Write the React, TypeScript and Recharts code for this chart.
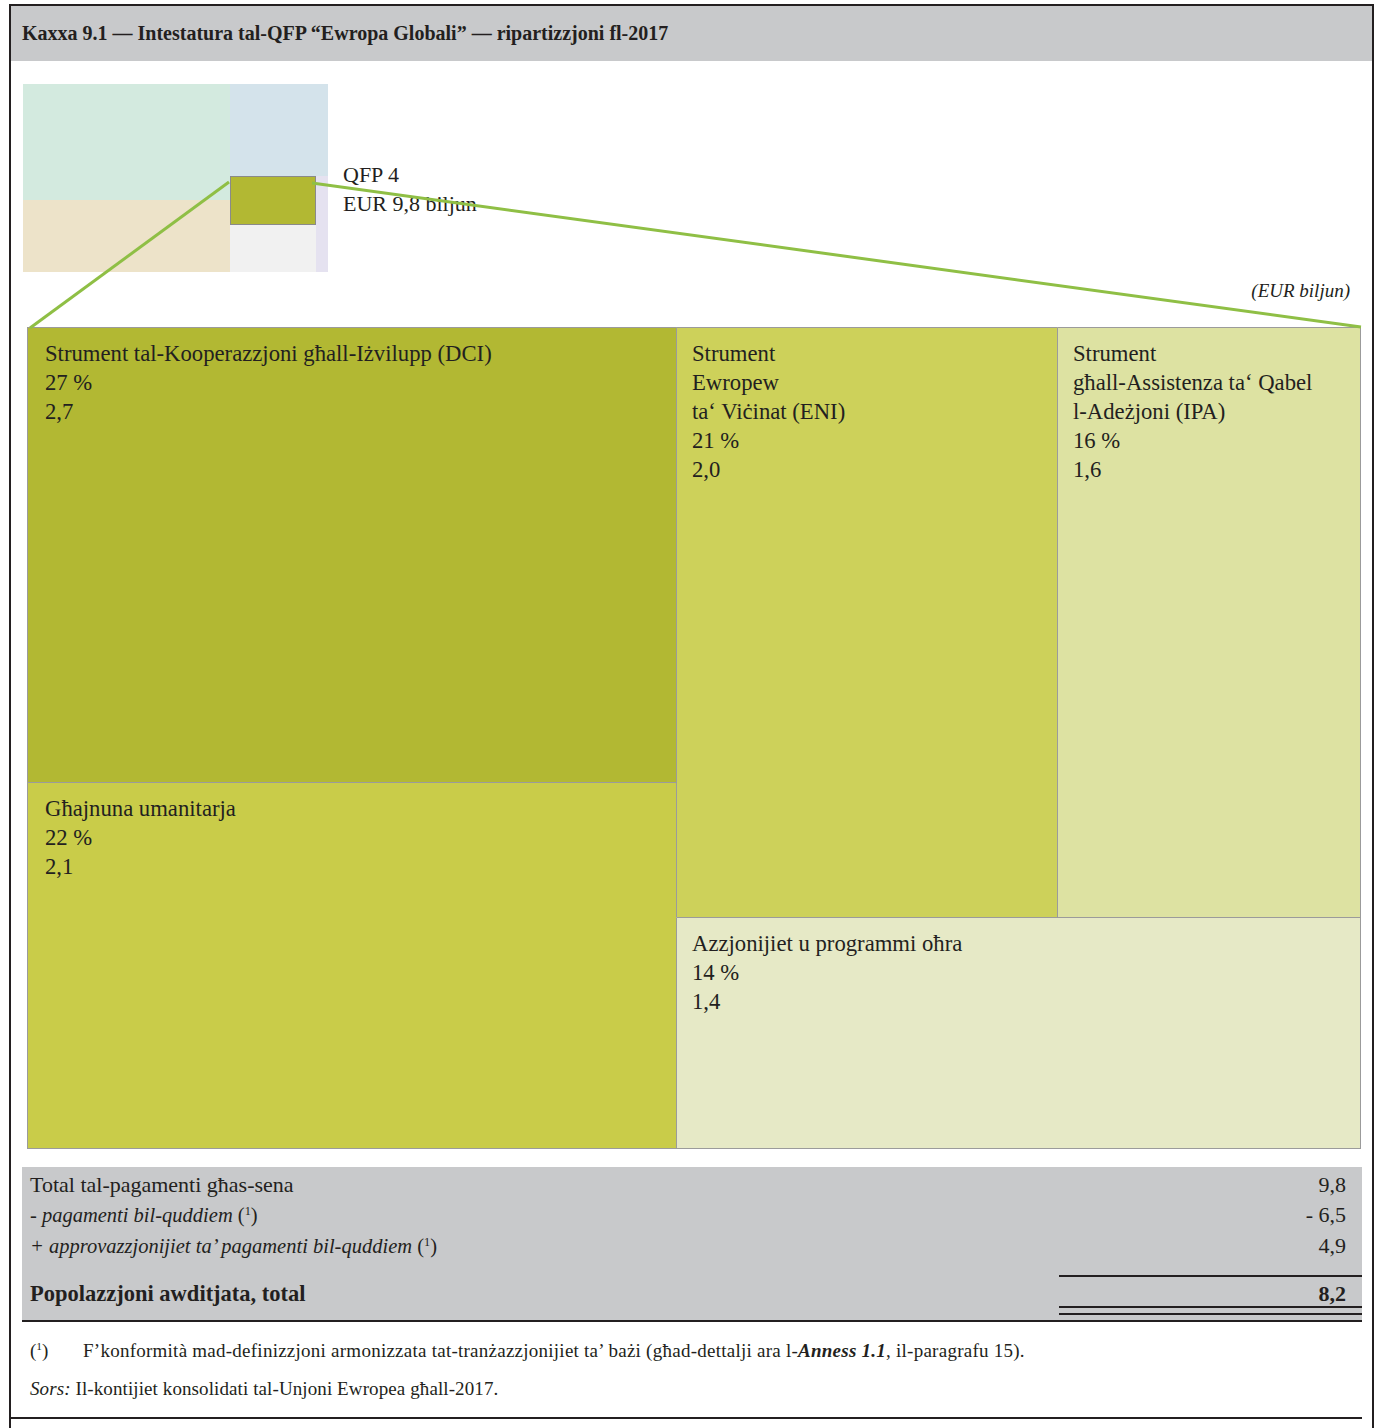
import React from 'react';
import { Treemap } from 'recharts';

// Instruments of heading 4 "Global Europe" (EUR billion, area values estimated from the cells)
const instrumentNames = [
  'Strument tal-Kooperazzjoni għall-Iżvilupp (DCI)',
  'Għajnuna umanitarja',
  'Strument\nEwropew\nta‘ Viċinat (ENI)',
  'Strument\ngħall-Assistenza ta‘ Qabel\nl-Adeżjoni (IPA)',
  'Azzjonijiet u programmi oħra',
];
const instrumentAmounts = [2.64, 2.13, 2.01, 1.6, 1.42];
const shareLabels = ['27 %', '22 %', '21 %', '16 %', '14 %'];
const amountLabels = ['2,7', '2,1', '2,0', '1,6', '1,4'];
const instrumentColors = ['#b2b833', '#c9cc49', '#cdd15a', '#dde2a2', '#e6e9c6'];

// Small overview of all MFF headings (thumbnail), heading 4 highlighted
const headingNames = ['QFP 2', 'QFP 1b', 'QFP 1a', 'QFP 4', 'QFP 5', 'QFP 3'];
const headingAmounts = [56.0, 34.8, 21.1, 9.8, 9.6, 2.7];
const headingColors = ['#d3eadf', '#ede3c9', '#d4e3eb', '#b2b833', '#f1f1f1', '#e5e2f0'];
const highlightedHeading = 'QFP 4';

// Table under the chart
const tableLabels = ['Total tal-pagamenti għas-sena', '- pagamenti bil-quddiem', '+ approvazzjonijiet ta’ pagamenti bil-quddiem'];
const tableValues = ['9,8', '- 6,5', '4,9'];
const totalLabel = 'Popolazzjoni awditjata, total';
const totalValue = '8,2';

const FONT = '"Liberation Serif", "DejaVu Serif", serif';
const INK = '#231f20';
const GREY_BAND = '#c8c9cb';
const CELL_BORDER = '#9b9b9b';
const CONNECTOR = '#8fbf45';

const MAIN = { x: 27, y: 327, w: 1334, h: 822 };
const THUMB = { x: 23, y: 84, w: 305, h: 188 };

const mainData = instrumentNames.map((name, i) => ({
  name,
  size: instrumentAmounts[i],
  share: shareLabels[i],
  amount: amountLabels[i],
  color: instrumentColors[i],
}));

const thumbData = headingNames.map((name, i) => ({
  name,
  size: headingAmounts[i],
  color: headingColors[i],
}));

const MainCell = (props: any) => {
  const { depth, x, y, width, height, name, share, amount, color } = props;
  if (depth !== 1) return <g />;
  const lines = [...String(name).split('\n'), share, amount];
  const atRight = x + width >= MAIN.w - 0.5;
  const atBottom = y + height >= MAIN.h - 0.5;
  const tx = x + (x < 1 ? 18 : 16);
  return (
    <g>
      <rect x={x} y={y} width={width} height={height} fill={color} stroke="none" />
      <path d={`M${x + 0.5},${y + height} V${y + 0.5} H${x + width}`} stroke={CELL_BORDER} strokeWidth={1} fill="none" />
      {atRight && <line x1={MAIN.w - 0.5} y1={y} x2={MAIN.w - 0.5} y2={y + height} stroke={CELL_BORDER} strokeWidth={1} />}
      {atBottom && <line x1={x} y1={MAIN.h - 0.5} x2={x + width} y2={MAIN.h - 0.5} stroke={CELL_BORDER} strokeWidth={1} />}
      <text x={tx} y={y + 34} fill={INK} fontSize={22.7} fontFamily={FONT}>
        {lines.map((l, i) => (
          <tspan key={i} x={tx} dy={i === 0 ? 0 : 29}>
            {l}
          </tspan>
        ))}
      </text>
    </g>
  );
};

const ThumbCell = (props: any) => {
  const { depth, x, y, width, height, name, color } = props;
  if (depth !== 1) return <g />;
  const hl = name === highlightedHeading;
  return (
    <rect
      x={hl ? x + 0.5 : x}
      y={hl ? y + 0.5 : y}
      width={hl ? width - 1 : width}
      height={hl ? height - 1 : height}
      fill={color}
      stroke={hl ? '#8a8a8a' : 'none'}
      strokeWidth={1}
    />
  );
};

const abs = (left: number, top: number, extra: React.CSSProperties = {}): React.CSSProperties => ({
  position: 'absolute',
  left,
  top,
  whiteSpace: 'nowrap',
  ...extra,
});

const Sup = () => (
  <span style={{ fontSize: '0.6em', position: 'relative', top: '-0.6em', fontStyle: 'normal' }}>1</span>
);

export default function App() {
  return (
    <div style={{ position: 'absolute', left: 0, top: 0, width: 1378, height: 1428, background: '#fff', fontFamily: FONT, color: INK, overflow: 'hidden' }}>
      {/* frame and header */}
      <div style={{ position: 'absolute', left: 11, top: 6, width: 1361, height: 55, background: GREY_BAND }} />
      <div style={{ position: 'absolute', left: 9, top: 4, width: 1365, height: 1430, borderTop: `2px solid ${INK}`, borderLeft: `2px solid ${INK}`, borderRight: `2px solid ${INK}`, boxSizing: 'border-box' }} />
      <div style={abs(22, 21, { fontSize: 20, lineHeight: '24px', fontWeight: 'bold' })}>
        Kaxxa 9.1 — Intestatura tal-QFP “Ewropa Globali” — ripartizzjoni fl-2017
      </div>

      {/* thumbnail of all headings */}
      <div style={{ position: 'absolute', left: THUMB.x, top: THUMB.y }}>
        <Treemap
          width={THUMB.w}
          height={THUMB.h}
          data={thumbData}
          dataKey="size"
          nameKey="name"
          isAnimationActive={false}
          content={<ThumbCell />}
        />
      </div>
      <div style={abs(343, 162, { fontSize: 22, lineHeight: '26px' })}>QFP 4</div>
      <div style={abs(343, 191, { fontSize: 22, lineHeight: '26px' })}>EUR 9,8 biljun</div>
      <div style={abs(1150, 279, { width: 200, textAlign: 'right', fontSize: 19, lineHeight: '24px', fontStyle: 'italic' })}>(EUR biljun)</div>

      {/* main treemap */}
      <div style={{ position: 'absolute', left: MAIN.x, top: MAIN.y }}>
        <Treemap
          width={MAIN.w}
          height={MAIN.h}
          data={mainData}
          dataKey="size"
          nameKey="name"
          isAnimationActive={false}
          content={<MainCell />}
        />
      </div>

      {/* connector lines from the thumbnail to the breakdown */}
      <svg style={{ position: 'absolute', left: 0, top: 0, pointerEvents: 'none' }} width={1378} height={1428}>
        <line x1={THUMB.x + 206} y1={THUMB.y + 98} x2={MAIN.x + 3} y2={MAIN.y + 1} stroke={CONNECTOR} strokeWidth={3} />
        <line x1={THUMB.x + 289} y1={THUMB.y + 99} x2={MAIN.x + MAIN.w} y2={MAIN.y} stroke={CONNECTOR} strokeWidth={3} />
      </svg>

      {/* table */}
      <div style={{ position: 'absolute', left: 22, top: 1167, width: 1340, height: 153, background: GREY_BAND }} />
      {tableLabels.map((label, i) => (
        <React.Fragment key={label}>
          <div style={abs(30, 1172 + [0, 30, 61][i], { fontSize: i === 0 ? 22 : 20.5, lineHeight: '26px', fontStyle: i === 0 ? 'normal' : 'italic' })}>
            {label}
            {i > 0 && (
              <span style={{ fontStyle: 'normal' }}>
                {' ('}
                <Sup />
                {')'}
              </span>
            )}
          </div>
          <div style={abs(1146, 1172 + [0, 30, 61][i], { width: 200, textAlign: 'right', fontSize: 22, lineHeight: '26px' })}>
            {tableValues[i]}
          </div>
        </React.Fragment>
      ))}
      <div style={abs(30, 1281, { fontSize: 22.5, lineHeight: '26px', fontWeight: 'bold' })}>{totalLabel}</div>
      <div style={abs(1146, 1281, { width: 200, textAlign: 'right', fontSize: 22, lineHeight: '26px', fontWeight: 'bold' })}>{totalValue}</div>
      <div style={{ position: 'absolute', left: 1059, top: 1275, width: 303, height: 2, background: INK }} />
      <div style={{ position: 'absolute', left: 1059, top: 1306, width: 303, height: 2, background: INK }} />
      <div style={{ position: 'absolute', left: 1059, top: 1313, width: 303, height: 2, background: INK }} />
      <div style={{ position: 'absolute', left: 22, top: 1320, width: 1340, height: 2, background: INK }} />

      {/* footnotes */}
      <div style={abs(30, 1339, { fontSize: 19, lineHeight: '24px' })}>
        (<Sup />)
      </div>
      <div style={abs(83, 1339, { fontSize: 19, lineHeight: '24px', letterSpacing: '0.25px' })}>
        F’konformità mad-definizzjoni armonizzata tat-tranżazzjonijiet ta’ bażi (għad-dettalji ara l-<b><i>Anness 1.1</i></b>, il-paragrafu 15).
      </div>
      <div style={abs(30, 1377, { fontSize: 19, lineHeight: '24px', letterSpacing: '0.1px' })}>
        <i>Sors:</i> Il-kontijiet konsolidati tal-Unjoni Ewropea għall-2017.
      </div>
      <div style={{ position: 'absolute', left: 11, top: 1417, width: 1351, height: 2, background: INK }} />
    </div>
  );
}
